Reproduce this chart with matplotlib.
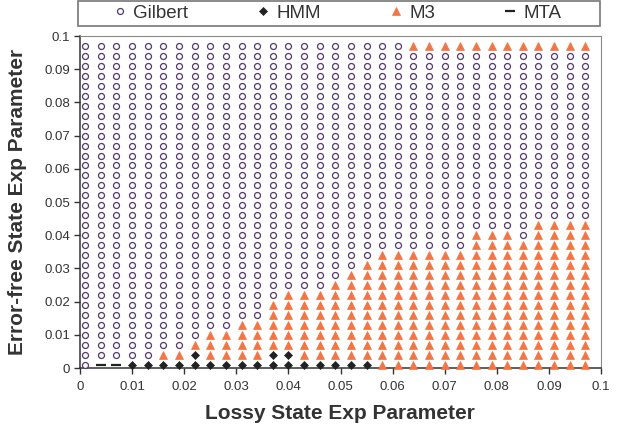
import numpy as np
import matplotlib.pyplot as plt
from matplotlib.patches import Rectangle
from matplotlib.lines import Line2D

plt.rcParams['font.family'] = ['Liberation Sans', 'DejaVu Sans']

# parameter sweep (same values on both axes)
lossy = [0.001, 0.004, 0.007, 0.010, 0.013, 0.016, 0.019, 0.022, 0.025, 0.028, 0.031,
         0.034, 0.037, 0.040, 0.043, 0.046, 0.049, 0.052, 0.055, 0.058, 0.061, 0.064,
         0.067, 0.070, 0.073, 0.076, 0.079, 0.082, 0.085, 0.088, 0.091, 0.094, 0.097]
errfree = list(lossy)

# per lossy column: how many bottom rows are MTA / HMM, highest row index that is M3
mta_rows = [0, 1, 1, 0, 0, 0, 0, 0, 0, 0, 0, 0, 0, 0, 0, 0, 0, 0, 0, 0, 0, 0,
            0, 0, 0, 0, 0, 0, 0, 0, 0, 0, 0]
hmm_rows = [0, 0, 0, 1, 1, 1, 1, 2, 1, 1, 1, 1, 2, 2, 1, 1, 1, 1, 1, 0, 0, 0,
            0, 0, 0, 0, 0, 0, 0, 0, 0, 0, 0]
m3_top = [-1, -1, -1, -1, -1, 1, 1, 2, 3, 3, 4, 4, 6, 7, 7, 7, 8, 9, 10, 11, 11, 11,
          11, 11, 11, 13, 13, 13, 12, 14, 14, 14, 14]
# M3 also wins on the top row (errfree = 0.097) for these columns
m3_top_row = [0, 0, 0, 0, 0, 0, 0, 0, 0, 0, 0, 0, 0, 0, 0, 0, 0, 0, 0, 0, 0, 1,
              1, 1, 1, 1, 1, 1, 1, 1, 1, 1, 1]

xticks = [0, 0.01, 0.02, 0.03, 0.04, 0.05, 0.06, 0.07, 0.08, 0.09, 0.1]
tick_labels = ['0', '0.01', '0.02', '0.03', '0.04', '0.05', '0.06', '0.07', '0.08', '0.09', '0.1']

pts = {'Gilbert': ([], []), 'HMM': ([], []), 'M3': ([], []), 'MTA': ([], [])}
last = len(errfree) - 1
for i, x in enumerate(lossy):
    for j, y in enumerate(errfree):
        if j < mta_rows[i]:
            k = 'MTA'
        elif j < hmm_rows[i]:
            k = 'HMM'
        elif j <= m3_top[i] or (j == last and m3_top_row[i]):
            k = 'M3'
        else:
            k = 'Gilbert'
        pts[k][0].append(x)
        pts[k][1].append(y)

purple = '#55386f'
orange = '#f27545'
dark = '#222222'

styles = {
    'Gilbert': dict(marker='o', ms=4.3, mfc='white', mec=purple, mew=0.9),
    'HMM': dict(marker='D', ms=3.6, mfc=dark, mec=dark, mew=0.5),
    'M3': dict(marker='^', ms=5.2, mfc=orange, mec=orange, mew=0.5),
    'MTA': dict(marker='_', ms=7, mec=dark, mew=1.6),
}

fig = plt.figure(figsize=(6.17, 4.36), dpi=100)
ax = fig.add_axes([80 / 617, 1 - 368 / 436, 521 / 617, 332 / 436])

for k in ['Gilbert', 'M3', 'HMM', 'MTA']:
    ax.plot(pts[k][0], pts[k][1], linestyle='none', clip_on=False, zorder=3, **styles[k])

ax.set_xlim(0, 0.1)
ax.set_ylim(0, 0.1)
ax.set_xticks(xticks)
ax.set_xticklabels(tick_labels)
ax.set_yticks(xticks)
ax.set_yticklabels(tick_labels)
ax.tick_params(direction='out', length=4, width=1, colors='#333333', labelsize=9.5)
ax.tick_params(axis='x', pad=5)
ax.tick_params(axis='y', pad=3)

for s in ['top', 'right']:
    ax.spines[s].set_color('#8a8a8a')
for s in ['left', 'bottom']:
    ax.spines[s].set_color('#333333')
    ax.spines[s].set_linewidth(1.1)

ax.set_xlabel('Lossy State Exp Parameter', fontsize=15, fontweight='bold', color='#333333')
ax.set_ylabel('Error-free State Exp Parameter', fontsize=15, fontweight='bold', color='#333333')
ax.xaxis.set_label_coords(0.499, (368 - 413) / 332)
ax.xaxis.label.set_va('center')
ax.yaxis.set_label_coords((18 - 80) / 521, 0.5)
ax.yaxis.label.set_va('center')

# legend box across the top
fig.patches.append(Rectangle((78 / 617, 1 - 26 / 436), 522 / 617, 25 / 436,
                             transform=fig.transFigure, facecolor='white',
                             edgecolor='#777777', linewidth=1.2))
handles = [Line2D([], [], linestyle='none', **styles[k]) for k in ['Gilbert', 'HMM', 'M3', 'MTA']]
fig.legend(handles, ['Gilbert', 'HMM', 'M3', 'MTA'], loc='center',
           bbox_to_anchor=(337 / 617, 1 - 13.5 / 436), ncol=4, frameon=False,
           fontsize=13.5, handlelength=0.8, handletextpad=0.3, columnspacing=3.6,
           labelcolor='#333333')

fig.savefig('out.png', dpi=100)
